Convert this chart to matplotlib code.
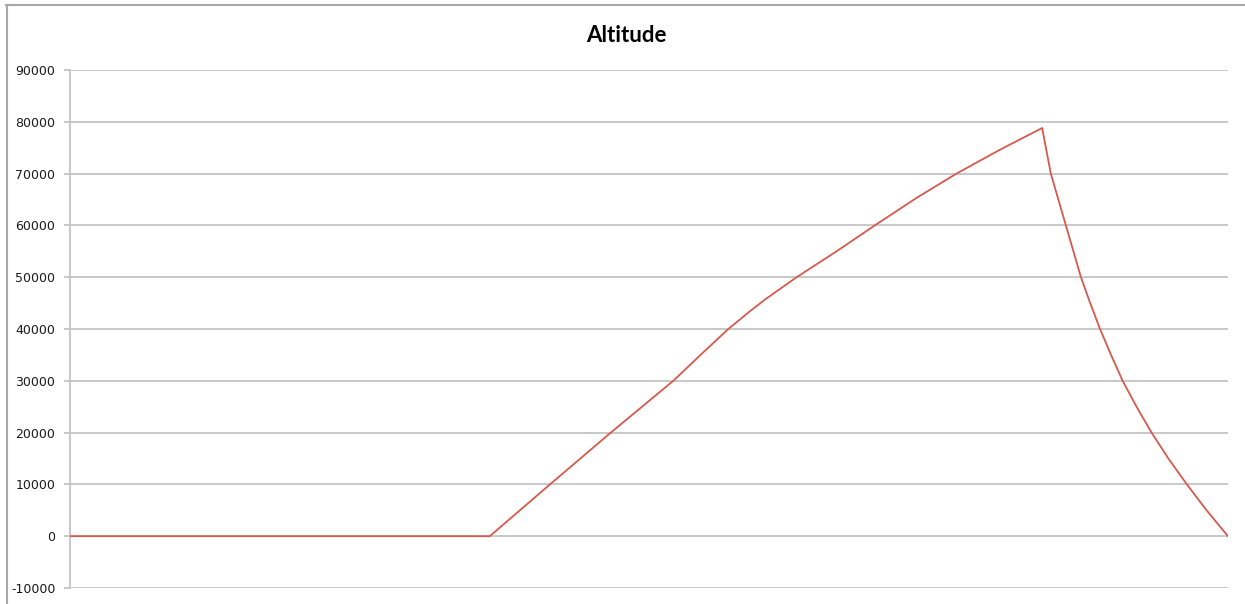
import matplotlib.pyplot as plt
from matplotlib.lines import Line2D

plt.rcParams['axes.unicode_minus'] = False

## Data ##
# flight time (arbitrary units) and altitude
time = [0, 72.5, 82.9, 93.4, 98.8, 104.2, 108.9, 113.7, 117.4, 120.0,
        125.5, 132.4, 139.0, 146.2, 153.1, 160.6, 167.9, 169.4, 170.7,
        172.0, 173.3, 174.6, 176.2, 177.9, 179.8, 181.8, 184.2, 186.8,
        189.7, 192.9, 196.3, 200.0]
altitude = [0, 0, 10000, 20000, 25000, 30000, 35000, 40000, 43400, 45660,
            50000, 55000, 60000, 65300, 70000, 74600, 78800, 70000, 65000,
            60000, 55000, 50000, 45000, 40000, 35000, 30000, 25000, 20000,
            15000, 10000, 5000, 0]
y_ticks = list(range(-10000, 90001, 10000))

## Plotting ##
fig = plt.figure(figsize=(12.45, 6.04), dpi=100)
ax = fig.add_axes([70 / 1245, 16 / 604, 1158 / 1245, 518 / 604])

ax.plot(time, altitude, color='#D6594E', linewidth=1.3, zorder=3)

ax.set_xlim(time[0], time[-1])
ax.set_ylim(y_ticks[0], y_ticks[-1])
ax.set_yticks(y_ticks)
ax.set_xticks([])
ax.grid(axis='y', color='#C4C4C4', linewidth=1.3)
ax.set_axisbelow(True)

for side in ['top', 'right', 'bottom']:
    ax.spines[side].set_visible(False)
ax.spines['left'].set_color('#C4C4C4')
ax.spines['left'].set_linewidth(1.3)
ax.tick_params(axis='y', length=4, width=1.3, color='#C4C4C4',
               pad=6.5, labelsize=9, labelcolor='#1a1a1a')

fig.text(626 / 1245, 1 - 36 / 604, 'Altitude', ha='center', va='center',
         fontsize=16, fontweight='bold', family=['Lato', 'DejaVu Sans'])

# outer chart border (top and left edges visible)
fig.add_artist(Line2D([6 / 1245, 1], [1 - 4.5 / 604, 1 - 4.5 / 604],
                      transform=fig.transFigure, color='#A8A8A8', linewidth=1.5))
fig.add_artist(Line2D([6.5 / 1245, 6.5 / 1245], [0, 1 - 4.5 / 604],
                      transform=fig.transFigure, color='#A8A8A8', linewidth=1.5))

fig.savefig('out.png', dpi=100)
